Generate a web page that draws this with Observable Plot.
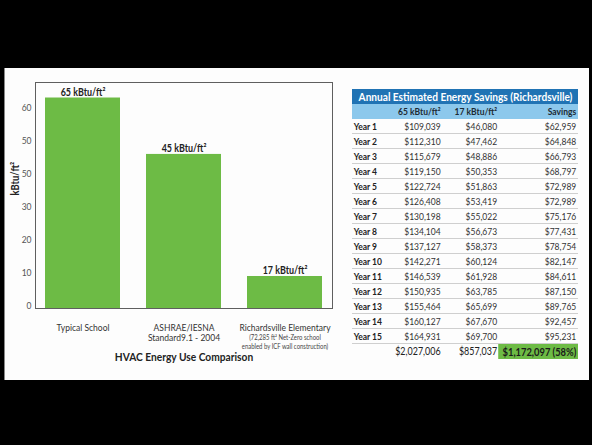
<!DOCTYPE html>
<html>
<head>
<meta charset="utf-8">
<script src="https://cdn.jsdelivr.net/npm/d3@7"></script>
<script src="https://cdn.jsdelivr.net/npm/@observablehq/plot@0.6"></script>
<style>
  html, body { margin: 0; padding: 0; background: #000; width: 592px; height: 445px; overflow: hidden; }
  #panel { position: absolute; left: 4px; top: 68px; width: 584px; height: 312px; background: #fdfdfd; border-left: 1px solid #888; }
  #chart { position: absolute; left: 0px; top: 68px; }
  #table { position: absolute; left: 345px; top: 68px; }
</style>
</head>
<body>
<div id="panel"></div>
<div id="chart"></div>
<div id="table"></div>
<script>
// ---------- Bar chart data ----------
const categories = ["Typical School", "ASHRAE/IESNA\nStandard9.1 - 2004", "Richardsville Elementary"];
const barValues = [63.8, 46.7, 9.7];
const barLabels = ["65 kBtu/ft²", "45 kBtu/ft²", "17 kBtu/ft²"];
const categoryNotes = ["", "", "(72,285 ft² Net-Zero school\nenabled by ICF wall construction)"];
const yTicks = [0, 10, 20, 30, 40, 50, 60];
const yTickLabels = ["0", "10", "20", "30", "50", "50", "60"];
const chartTitle = "HVAC Energy Use Comparison";
const yTitle = "kBtu/ft²";

// ---------- Table data ----------
const tableTitle = "Annual Estimated Energy Savings (Richardsville)";
const tableHeaders = ["65 kBtu/ft²", "17 kBtu/ft²", "Savings"];
const years = ["Year 1","Year 2","Year 3","Year 4","Year 5","Year 6","Year 7","Year 8","Year 9","Year 10","Year 11","Year 12","Year 13","Year 14","Year 15"];
const cost65 = [109039,112310,115679,119150,122724,126408,130198,134104,137127,142271,146539,150935,155464,160127,164931];
const cost17 = [46080,47462,48886,50353,51863,53419,55022,56673,58373,60124,61928,63785,65699,67670,69700];
const savings = [62959,64848,66793,68797,72989,72989,75176,77431,78754,82147,84611,87150,89765,92457,95231];
const totals = [2027006, 857037, 1172097];
const totalShare = "(58%)";

// ---------- Styles ----------
const FONT = "Lato, 'Liberation Sans', sans-serif";
const GREEN = "#6dbb45";
const DARKBLUE = "#2073b4";
const LIGHTBLUE = "#8cc8ec";

// squeeze glyphs horizontally to imitate the condensed typeface of the reference
function condense(svg, factor, special = {}) {
  svg.querySelectorAll("text").forEach(t => {
    let f = factor;
    for (const cls in special) if (t.closest("." + cls)) f = special[cls];
    const spans = t.querySelectorAll("tspan");
    const targets = spans.length ? Array.from(spans) : [t];
    targets.forEach(el => {
      const L = el.getComputedTextLength();
      if (L > 0) {
        el.setAttribute("textLength", (L * f).toFixed(2));
        el.setAttribute("lengthAdjust", "spacingAndGlyphs");
      }
    });
  });
}

// ---------- Bar chart ----------
const bars = categories.map((c, i) => ({cat: c, value: barValues[i], label: barLabels[i], note: categoryNotes[i]}));

const chart = Plot.plot({
  width: 345,
  height: 312,
  marginLeft: 35,
  marginRight: 13,
  marginTop: 14,
  marginBottom: 72,
  style: {fontFamily: FONT, background: "transparent", overflow: "visible"},
  x: {domain: categories, paddingInner: 0.26, paddingOuter: 0.1, label: null},
  y: {domain: [0, 68.5], label: null},
  marks: [
    Plot.barY(bars, {x: "cat", y: "value", fill: GREEN}),
    Plot.frame({stroke: "#5f5f5f", strokeWidth: 1}),
    Plot.axisY(yTicks, {tickSize: 0, tickPadding: 4, label: null, fontSize: 10, fill: "#555",
      dy: -3, tickFormat: d => yTickLabels[yTicks.indexOf(d)]}),
    Plot.axisX({tickSize: 0, tickPadding: 15, label: null, fontSize: 10, fill: "#333", lineHeight: 1.05}),
    Plot.text(bars, {x: "cat", y: "value", text: "label", lineAnchor: "bottom", dy: -2,
      fontWeight: "bold", fontSize: 10.5, fill: "#222"}),
    Plot.text(bars.filter(d => d.note), {x: "cat", text: "note", frameAnchor: "bottom", lineAnchor: "top",
      dy: 25, fontSize: 7, lineHeight: 1.3, fill: "#444"}),
    Plot.text([chartTitle], {frameAnchor: "bottom", dy: 52, fontWeight: "bold", fontSize: 12, fill: "#222"}),
    Plot.text([yTitle], {frameAnchor: "left", dx: -20, rotate: -90, fontWeight: "bold", fontSize: 11, fill: "#222"})
  ]
});
document.getElementById("chart").appendChild(chart);
condense(chart, 0.85);

// ---------- Table (drawn with Plot) ----------
const rowKeys = ["title", "head", ...years, "total"];
const rows = years.map((y, i) => ({year: y, c65: cost65[i], c17: cost17[i], sav: savings[i]}));
const fmt = d3.format("$,");
// column anchors as fractions of table width (layout)
const col = {year: 0.005, c65: 0.39, c17: 0.64, sav: 0.99, greenStart: 0.647};
const bandH = 284 / rowKeys.length;

const table = Plot.plot({
  width: 243,
  height: 312,
  marginLeft: 7,
  marginRight: 10,
  marginTop: 14,
  marginBottom: 14,
  style: {fontFamily: FONT, background: "transparent", overflow: "visible"},
  x: {domain: [0, 1], axis: null},
  y: {domain: rowKeys, padding: 0, axis: null},
  marks: [
    Plot.barX(["title"], {x1: 0, x2: 1, y: d => d, fill: DARKBLUE}),
    Plot.barX(["head"], {x1: 0, x2: 1, y: d => d, fill: LIGHTBLUE}),
    Plot.barX(years, {x1: 0, x2: 1, y: d => d, fill: "#8f8f8f", insetTop: bandH - 1.2}),
    Plot.barX(["total"], {x1: col.greenStart, x2: 1, y: d => d, fill: GREEN}),
    Plot.text([tableTitle], {x: 0.5, y: () => "title", fill: "#fff", fontWeight: "bold", fontSize: 11, className: "ttl"}),
    Plot.text(tableHeaders, {x: (d, i) => [col.c65, col.c17, col.sav][i], y: () => "head", textAnchor: "end",
      fontWeight: "bold", fontSize: 10, fill: "#1d2a33"}),
    Plot.text(rows, {x: () => col.year, y: "year", text: "year", textAnchor: "start", fontWeight: "bold", fontSize: 10, fill: "#222"}),
    Plot.text(rows, {x: () => col.c65, y: "year", text: d => fmt(d.c65), textAnchor: "end", fontSize: 10, fill: "#333"}),
    Plot.text(rows, {x: () => col.c17, y: "year", text: d => fmt(d.c17), textAnchor: "end", fontSize: 10, fill: "#333"}),
    Plot.text(rows, {x: () => col.sav, y: "year", text: d => fmt(d.sav), textAnchor: "end", fontSize: 10, fill: "#333"}),
    Plot.text([totals[0]], {x: () => col.c65, y: () => "total", text: d => fmt(d), textAnchor: "end", fontSize: 10.5, fill: "#222"}),
    Plot.text([totals[1]], {x: () => col.c17, y: () => "total", text: d => fmt(d), textAnchor: "end", fontSize: 10.5, fill: "#222"}),
    Plot.text([totals[2]], {x: () => col.sav, y: () => "total", text: d => fmt(d) + " " + totalShare, textAnchor: "end", fontWeight: "bold", fontSize: 11, fill: "#1a1a1a"})
  ]
});
document.getElementById("table").appendChild(table);
condense(table, 0.85, {ttl: 0.92});
</script>
</body>
</html>
